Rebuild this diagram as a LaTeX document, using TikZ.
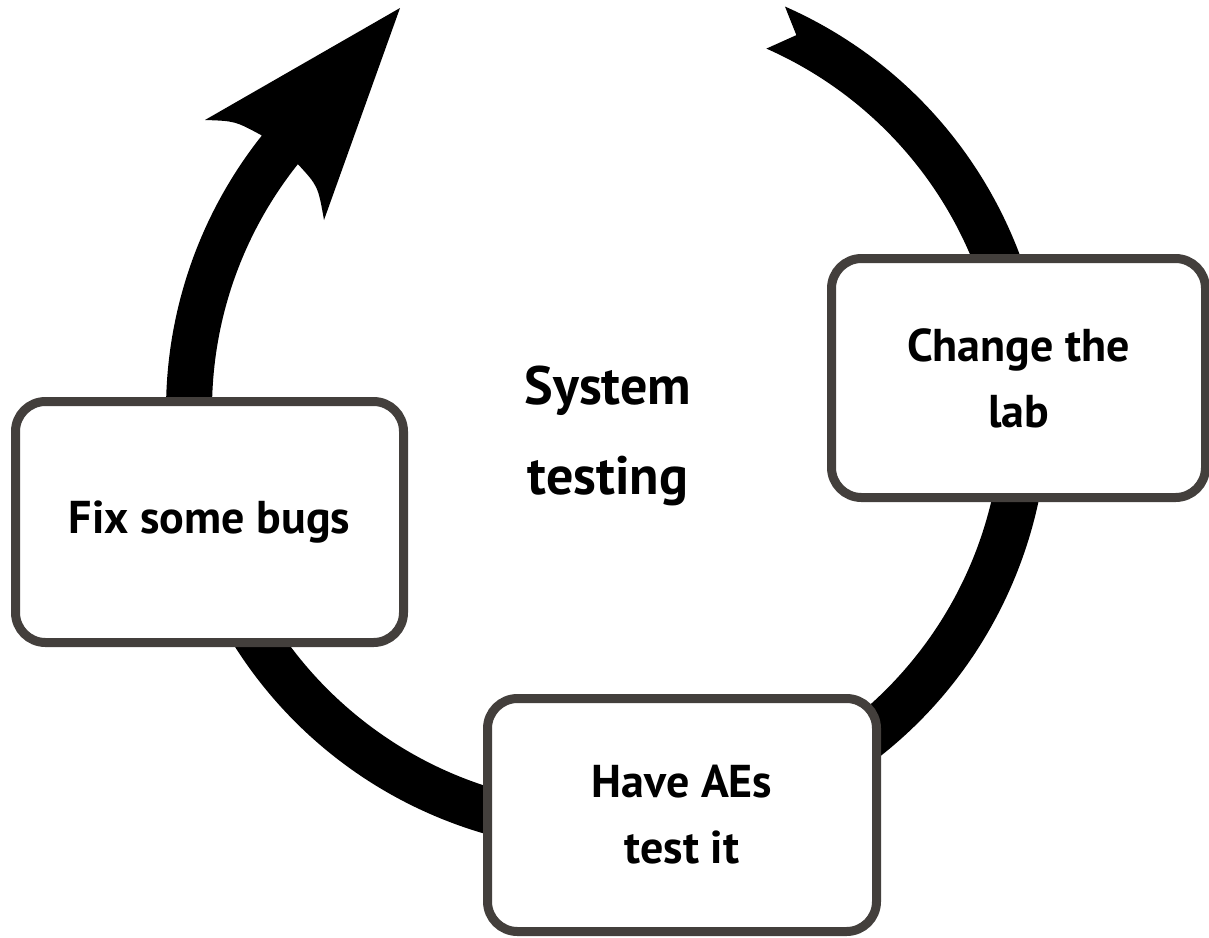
\documentclass[tikz,border=0pt]{standalone}
\usepackage{fontspec}
\setmainfont{PT Sans}
\usetikzlibrary{calc}
\definecolor{boxline}{RGB}{67,63,60}
\newcommand\steplabelfont{\bfseries\fontsize{46}{66}\selectfont}
\newcommand\hublabelfont{\bfseries\fontsize{54}{90}\selectfont}
\begin{document}
\begin{tikzpicture}[x=1pt,y=-1pt,
  stepbox/.style={draw=boxline, line width=9pt, rounded corners=30pt,
    fill=white, align=center, inner sep=0pt, font=\steplabelfont},
  hub/.style={align=center, inner sep=0pt, font=\hublabelfont}]
\useasboundingbox (0,0) rectangle (1209,937);
\coordinate (C) at (607,410);
% circular arrow: notched tail at upper right, head at upper left
\coordinate (notch) at ($(C)+(-63.2:420)$);
\coordinate (obarb) at (205,120);
\coordinate (tip) at (400,8);
\coordinate (ibarb) at (324,220);
\fill[black] ($(C)+(-66.2:441)$) arc[start angle=-66.2, end angle=218.5, radius=441]
  .. controls (235,121) .. (obarb) -- (tip) -- (ibarb)
  .. controls (318,186) .. ($(C)+(218.5:395)$)
  arc[start angle=218.5, end angle=-66.2, radius=395] -- (notch) -- cycle;
% the three steps
\node[stepbox, minimum width=374pt, minimum height=239pt] (lab) at (1018.5,378) {Change the\\lab};
\node[stepbox, minimum width=388pt, minimum height=241pt] (bugs) at (209.5,522) {Fix some bugs};
\node[stepbox, minimum width=389pt, minimum height=233pt] (aes) at (682,815) {Have AEs\\test it};
% centre title
\node[hub] (title) at (608,436) {System\\testing};
\end{tikzpicture}
\end{document}
